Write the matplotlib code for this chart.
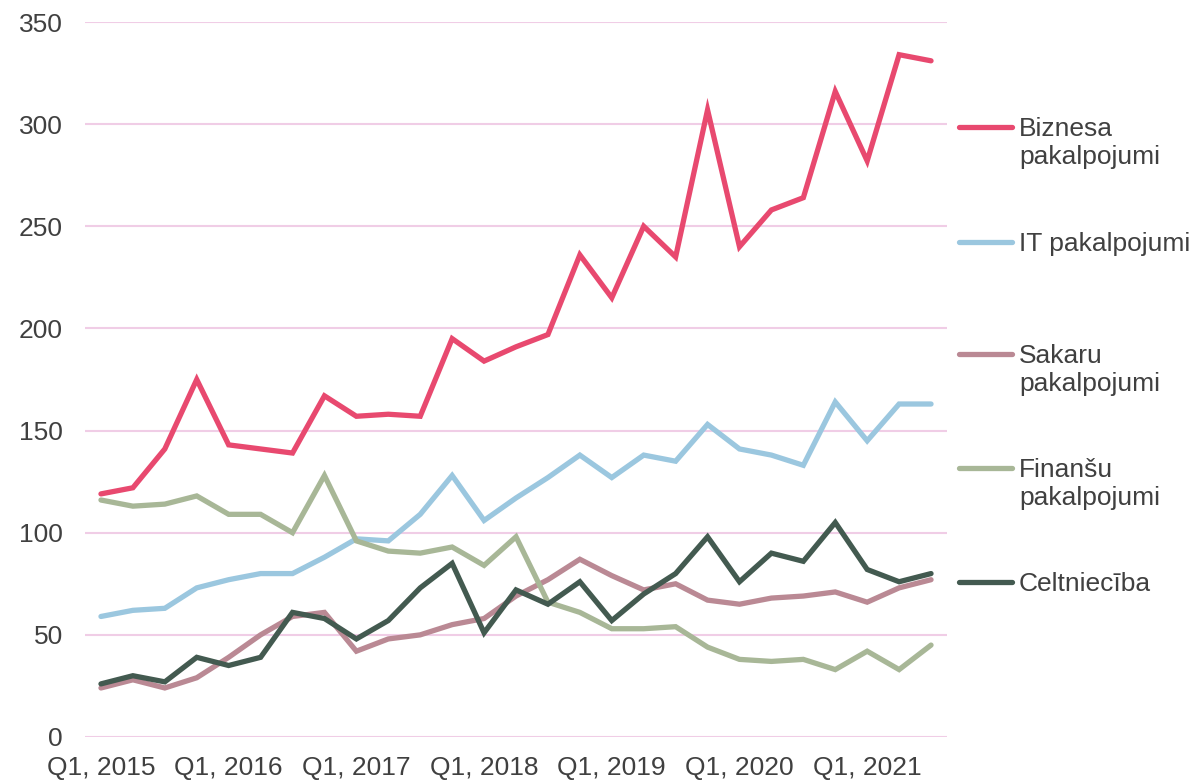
import matplotlib.pyplot as plt
from matplotlib.lines import Line2D

plt.rcParams['font.family'] = ['Liberation Sans', 'DejaVu Sans']

# Quarters Q1 2015 .. Q3 2021
quarters = [f"Q{q}, {y}" for y in range(2015, 2022) for q in range(1, 5)][:27]

biznesa = [119, 122, 141, 175, 143, 141, 139, 167, 157, 158, 157, 195, 184, 191, 197,
           236, 215, 250, 235, 307, 240, 258, 264, 316, 282, 334, 331]
it = [59, 62, 63, 73, 77, 80, 80, 88, 97, 96, 109, 128, 106, 117, 127,
      138, 127, 138, 135, 153, 141, 138, 133, 164, 145, 163, 163]
sakaru = [24, 28, 24, 29, 39, 50, 59, 61, 42, 48, 50, 55, 58, 69, 77,
          87, 79, 72, 75, 67, 65, 68, 69, 71, 66, 73, 77]
finansu = [116, 113, 114, 118, 109, 109, 100, 128, 96, 91, 90, 93, 84, 98, 66,
           61, 53, 53, 54, 44, 38, 37, 38, 33, 42, 33, 45]
celtnieciba = [26, 30, 27, 39, 35, 39, 61, 58, 48, 57, 73, 85, 51, 72, 65,
               76, 57, 70, 80, 98, 76, 90, 86, 105, 82, 76, 80]

series = [
    ("Biznesa\npakalpojumi", biznesa, '#E8496F'),
    ("IT pakalpojumi", it, '#9BC7DF'),
    ("Sakaru\npakalpojumi", sakaru, '#BA8994'),
    ("Finanšu\npakalpojumi", finansu, '#A8B797'),
    ("Celtniecība", celtnieciba, '#435A50'),
]

W, H = 1192, 782
fig = plt.figure(figsize=(W / 100, H / 100), dpi=100)
ax = fig.add_axes([85 / W, 1 - 737 / H, (947 - 85) / W, (737 - 22) / H])

x = list(range(len(quarters)))
for label, vals, col in series:
    ax.plot(x, vals, color=col, lw=3.8, solid_capstyle='round', solid_joinstyle='miter', zorder=3)

ax.set_ylim(0, 350)
ax.set_xlim(-0.5, len(quarters) - 0.5)
ax.set_yticks(range(0, 351, 50))
ax.set_xticks(x[::4])
ax.set_xticklabels(quarters[::4])
ax.grid(axis='y', color='#F0CDE6', lw=1.5, zorder=0)
ax.tick_params(length=0, labelsize=19, colors='#404040')
ax.tick_params(axis='y', pad=16)
ax.tick_params(axis='x', pad=14)
for s in ax.spines.values():
    s.set_visible(False)

# legend on the right, drawn by hand
leg_y = [127, 242, 354, 468, 582]
for (label, vals, col), yy in zip(series, leg_y):
    fig.add_artist(Line2D([959 / W, 1012 / W], [1 - yy / H, 1 - yy / H],
                          color=col, lw=3.8, solid_capstyle='round'))
    fig.text(1019 / W, 1 - (yy - 10) / H, label, fontsize=19, color='#404040',
             va='top', ha='left', linespacing=1.22)

fig.savefig('out.png', dpi=100)
